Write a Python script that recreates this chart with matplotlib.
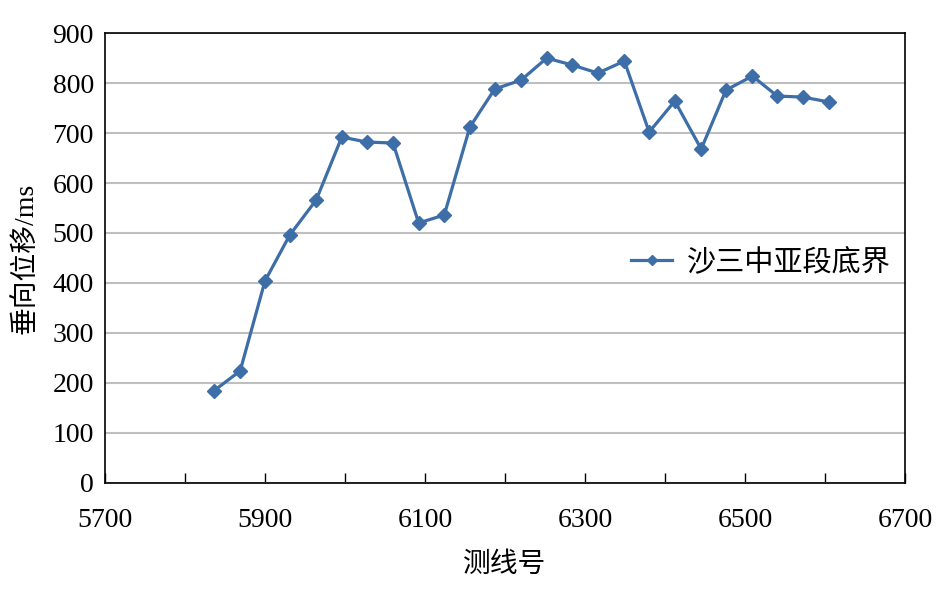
import numpy as np
import matplotlib.pyplot as plt

plt.rcParams['font.family'] = ['Liberation Serif', 'Noto Sans CJK SC', 'DejaVu Sans']

# line numbers and vertical displacement (ms)
line_no = [5836, 5869, 5900, 5931, 5964, 5996, 6027, 6060, 6092, 6124,
           6156, 6187, 6220, 6252, 6284, 6316, 6349, 6380, 6412, 6445,
           6476, 6509, 6540, 6572, 6605]
disp = [184, 224, 404, 496, 566, 692, 682, 680, 520, 536,
        712, 788, 806, 850, 836, 820, 844, 702, 764, 668,
        786, 814, 774, 772, 762]
series_name = "沙三中亚段底界"

fig = plt.figure(figsize=(9.45, 5.91), dpi=100)
ax = fig.add_axes([0.111, 0.183, 0.847, 0.761])

ax.plot(line_no, disp, color='#3d6ea8', lw=2.3, marker='D', markersize=7,
        label=series_name, zorder=3)

ax.set_xlim(5700, 6700)
ax.set_ylim(0, 900)
ax.set_xticks(np.arange(5700, 6701, 200))
ax.set_xticks(np.arange(5700, 6701, 100), minor=True)
ax.set_yticks(np.arange(0, 901, 100))
ax.yaxis.grid(True, color='#bfbfbf', lw=1.5)
ax.set_axisbelow(True)

ax.tick_params(axis='x', which='both', direction='in', length=7, width=1,
               labelsize=20, pad=18)
ax.tick_params(axis='y', length=0, labelsize=20, pad=8)

for s in ax.spines.values():
    s.set_color('black')
    s.set_linewidth(1.2)

ax.set_xlabel("测线号", fontsize=20, labelpad=14)
ax.set_ylabel("垂向位移/ms", fontsize=20, labelpad=10)

ax.legend(loc='center left', bbox_to_anchor=(0.625, 0.49), frameon=False,
          fontsize=21, handlelength=1.4, handletextpad=0.5, markerscale=0.7)

fig.savefig('out.png', dpi=100)
